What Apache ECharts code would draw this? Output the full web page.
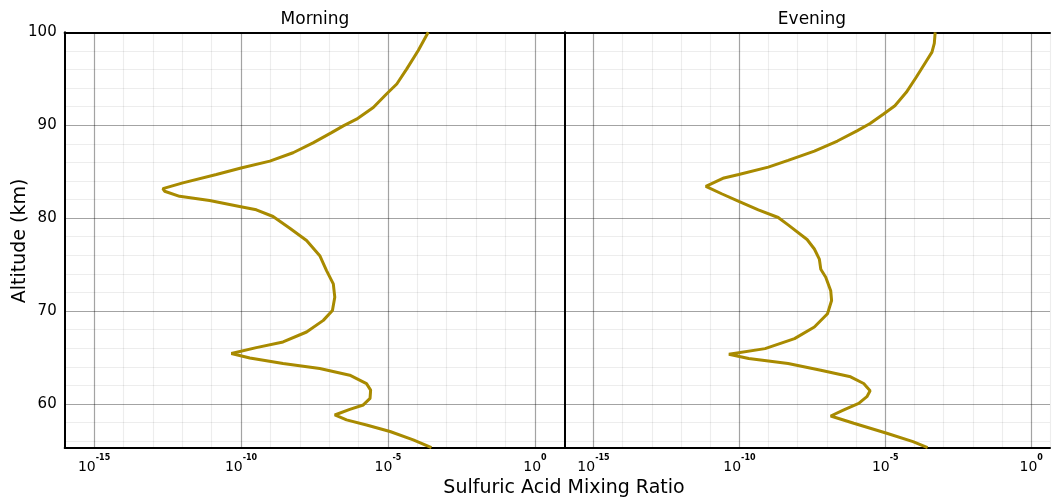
<!DOCTYPE html>
<html>
<head>
<meta charset="utf-8">
<script src="https://cdn.jsdelivr.net/npm/echarts@6/dist/echarts.min.js"></script>
<style>
html,body{margin:0;padding:0;background:#fff;}
#chart{width:1053px;height:498px;}
</style>
</head>
<body>
<div id="chart"></div>
<script>
const panelTitles = ['Morning', 'Evening'];
const xAxisTitle = 'Sulfuric Acid Mixing Ratio';
const yAxisTitle = 'Altitude (km)';

// Morning profile: altitude (km) and log10 of mixing ratio
const morningAlt = [100.0, 98.05, 96.06, 94.44, 93.36, 91.9, 90.65, 89.93, 89.2, 88.1, 87.04, 86.14, 85.4, 84.7, 83.8, 83.18, 82.9, 82.35, 81.9, 81.26, 80.9, 80.18, 78.92, 77.6, 75.96, 74.36, 72.93, 71.5, 70.07, 69.0, 67.75, 66.68, 66.07, 65.43, 64.96, 64.36, 63.82, 63.1, 62.2, 61.5, 60.6, 59.9, 59.43, 58.82, 58.29, 57.75, 57.04, 56.14, 55.3];
const morningLog10 = [-3.63, -3.97, -4.36, -4.70, -5.05, -5.5, -6.07, -6.52, -6.92, -7.55, -8.23, -9.02, -10.0, -10.84, -11.98, -12.66, -12.6, -12.09, -11.07, -10.05, -9.48, -8.91, -8.34, -7.77, -7.32, -7.09, -6.86, -6.81, -6.89, -7.2, -7.77, -8.57, -9.48, -10.33, -9.7, -8.57, -7.32, -6.30, -5.73, -5.59, -5.61, -5.84, -6.30, -6.81, -6.41, -5.73, -4.93, -4.14, -3.52];

// Evening profile
const eveningAlt = [100.0, 98.8, 97.87, 96.97, 95.16, 93.54, 92.1, 91.19, 90.18, 89.39, 88.3, 87.22, 86.21, 85.49, 84.69, 84.33, 83.43, 82.6, 81.8, 80.9, 80.07, 79.28, 77.7, 76.68, 75.6, 74.5, 73.64, 72.2, 71.14, 69.71, 68.29, 67.04, 65.96, 65.36, 64.89, 64.36, 63.64, 62.93, 62.21, 61.43, 60.79, 60.07, 59.36, 58.71, 57.93, 56.86, 55.96, 55.3];
const eveningLog10 = [-3.29, -3.32, -3.40, -3.58, -3.94, -4.28, -4.67, -5.07, -5.52, -5.97, -6.64, -7.43, -8.33, -9.01, -10.02, -10.53, -11.15, -10.59, -10.02, -9.35, -8.67, -8.33, -7.68, -7.43, -7.26, -7.21, -7.04, -6.87, -6.84, -6.98, -7.43, -8.11, -9.12, -10.36, -9.68, -8.33, -7.21, -6.19, -5.74, -5.52, -5.63, -5.91, -6.42, -6.87, -6.08, -4.95, -4.05, -3.55];

const yTickLabels = [60, 70, 80, 90, 100];
const xLabelExponents = [-15, -10, -5, 0];

const FONT = 'DejaVu Sans';
const LINE_COLOR = '#a88a00';
const MAJOR = 'rgba(0,0,0,0.36)';
const MINOR = 'rgba(0,0,0,0.07)';

function toPoints(alt, lg) {
  return alt.map((a, i) => [Math.pow(10, lg[i]), a]);
}

const chart = echarts.init(document.getElementById('chart'), null, {renderer: 'canvas'});

const grids = [
  {left: 64.7, right: 488.7, top: 32.3, bottom: 50.3},
  {left: 564.3, right: 0, top: 32.3, bottom: 50.3}
];
const xMax = [10, Math.pow(10, 0.645)];

function xLabelFmt(v) {
  const e = Math.round(Math.log10(v));
  if (xLabelExponents.indexOf(e) < 0) return '';
  return '{a|10}{b|' + e + '}';
}

const xAxes = [];
const yAxes = [];
[0, 1].forEach(g => {
  xAxes.push({
    gridIndex: g, type: 'log', logBase: 10, min: 1e-16, max: xMax[g], interval: 1,
    position: 'bottom',
    axisLine: {show: true, onZero: false, lineStyle: {color: '#000', width: 2}},
    axisTick: {show: false},
    splitLine: {show: true, lineStyle: {color: [MINOR, MAJOR, MINOR, MINOR, MINOR], width: 1.2}},
    axisLabel: {
      show: true, margin: 12.5, formatter: xLabelFmt, interval: 0, hideOverlap: false,
      showMinLabel: true, showMaxLabel: true,
      rich: {
        a: {fontFamily: FONT, fontSize: 14, color: '#000', lineHeight: 14, verticalAlign: 'bottom'},
        b: {fontFamily: FONT, fontSize: 8, fontWeight: 'bold', color: '#000', lineHeight: 8, padding: [0, 0, 12, 0], verticalAlign: 'bottom'}
      }
    }
  });
  xAxes.push({
    gridIndex: g, type: 'log', logBase: 10, min: 1e-16, max: xMax[g],
    position: 'top',
    axisLine: {show: true, onZero: false, lineStyle: {color: '#000', width: 2}},
    axisTick: {show: false}, axisLabel: {show: false}, splitLine: {show: false}
  });
  yAxes.push({
    gridIndex: g, type: 'value', min: 55.3, max: 100, minInterval: 2, maxInterval: 2, splitNumber: 23,
    axisLine: {show: true, onZero: false, lineStyle: {color: '#000', width: 2}},
    axisTick: {show: false},
    splitLine: {show: true, lineStyle: {color: [MINOR, MINOR, MINOR, MAJOR, MINOR], width: 1.2}},
    axisLabel: {
      show: g === 0, margin: 8, fontFamily: FONT, fontSize: 15, color: '#000',
      showMinLabel: false,
      formatter: v => (yTickLabels.indexOf(Math.round(v)) >= 0 && Math.abs(v - Math.round(v)) < 1e-6) ? String(Math.round(v)) : ''
    }
  });
});

const option = {
  backgroundColor: '#fff',
  animation: false,
  grid: grids,
  xAxis: xAxes,
  yAxis: yAxes,
  graphic: [
    {type: 'text', style: {text: panelTitles[0], font: '17px "' + FONT + '"', fill: '#000', textAlign: 'center', textVerticalAlign: 'middle'}, x: 315, y: 19.5},
    {type: 'text', style: {text: panelTitles[1], font: '17px "' + FONT + '"', fill: '#000', textAlign: 'center', textVerticalAlign: 'middle'}, x: 812, y: 19.5},
    {type: 'text', style: {text: xAxisTitle, font: '19px "' + FONT + '"', fill: '#000', textAlign: 'center', textVerticalAlign: 'middle'}, x: 564, y: 488.5},
    {type: 'text', rotation: Math.PI / 2, style: {text: yAxisTitle, font: '19px "' + FONT + '"', fill: '#000', textAlign: 'center', textVerticalAlign: 'middle'}, x: 20, y: 241}
  ],
  series: [
    {type: 'line', xAxisIndex: 0, yAxisIndex: 0, data: toPoints(morningAlt, morningLog10), showSymbol: false, symbol: 'none',
     lineStyle: {color: LINE_COLOR, width: 3}, z: 5},
    {type: 'line', xAxisIndex: 2, yAxisIndex: 1, data: toPoints(eveningAlt, eveningLog10), showSymbol: false, symbol: 'none',
     lineStyle: {color: LINE_COLOR, width: 3}, z: 5}
  ]
};
chart.setOption(option);
</script>
</body>
</html>
